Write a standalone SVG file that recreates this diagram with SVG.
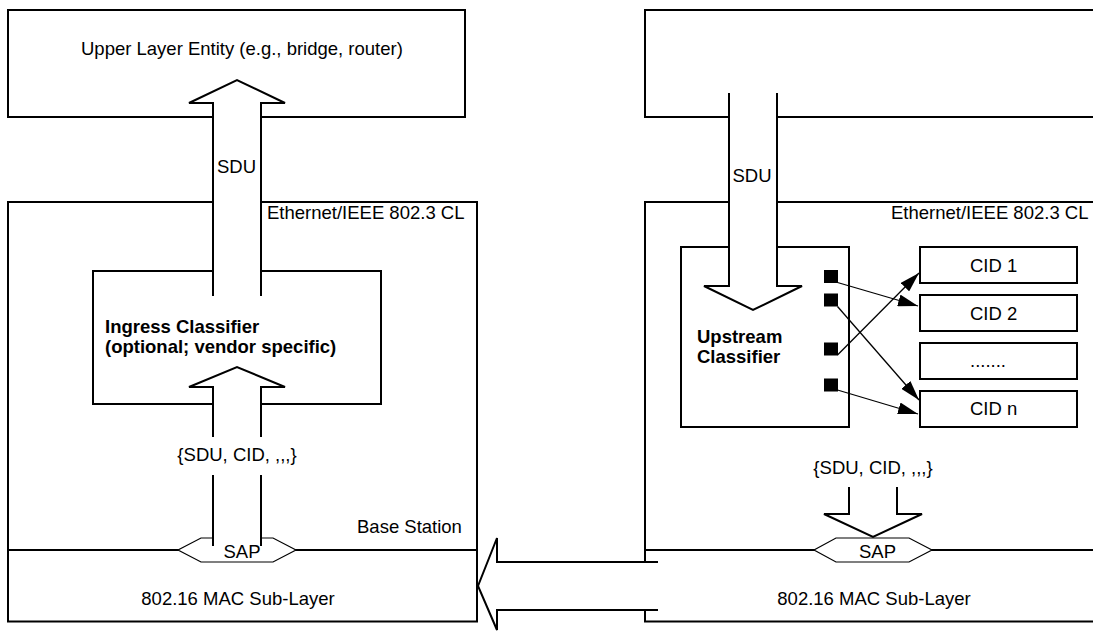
<svg xmlns="http://www.w3.org/2000/svg" width="1093" height="632" viewBox="0 0 1093 632">
<style>
  .box { fill: none; stroke: #000; stroke-width: 2; }
  .wbox { fill: #fff; stroke: #000; stroke-width: 2; }
  .hollow { fill: #fff; stroke: #000; stroke-width: 2; stroke-linejoin: miter; }
  .sap { fill: #fff; stroke: #000; stroke-width: 1.2; }
  .ln { fill: none; stroke: #000; stroke-width: 2; }
  .conn { fill: none; stroke: #000; stroke-width: 1.3; marker-end: url(#ah); }
  .sq { fill: #000; }
  text { font-family: "Liberation Sans", Arial, sans-serif; font-size: 18.5px; fill: #000; }
  .b { font-weight: bold; }
  .m { text-anchor: middle; }
</style>
<defs>
  <marker id="ah" markerUnits="userSpaceOnUse" markerWidth="20" markerHeight="12" refX="20" refY="6" orient="auto">
    <path d="M0,0 L20,6 L0,12 z" fill="#000"/>
  </marker>
</defs>
<rect x="0" y="0" width="1093" height="632" fill="#fff"/>

<g id="upper-layer-entity-bs">
  <rect class="box" x="8" y="10" width="457" height="107"/>
  <text x="81" y="55">Upper Layer Entity (e.g., bridge, router)</text>
</g>
<g id="upper-layer-entity-ss">
  <path class="box" d="M1095,10 L645,10 L645,117 L1095,117"/>
</g>

<g id="bs-convergence-layer">
  <rect class="box" x="8" y="202" width="469" height="419.5"/>
  <line class="ln" x1="8" y1="550" x2="477" y2="550"/>
  <text x="267" y="219">Ethernet/IEEE 802.3 CL</text>
  <text x="357" y="533">Base Station</text>
  <text class="m" x="238" y="605">802.16 MAC Sub-Layer</text>
</g>
<g id="ss-convergence-layer">
  <path class="box" d="M1095,202 L645,202 L645,621.5 L1095,621.5"/>
  <line class="ln" x1="645" y1="550" x2="1095" y2="550"/>
  <text x="891" y="219">Ethernet/IEEE 802.3 CL</text>
  <text class="m" x="874" y="605">802.16 MAC Sub-Layer</text>
</g>

<g id="ingress-classifier">
  <rect class="box" x="93" y="271" width="288" height="133"/>
  <text class="b" x="105" y="333">Ingress Classifier</text>
  <text class="b" x="105" y="353">(optional; vendor specific)</text>
</g>

<g id="upstream-classifier">
  <rect class="box" x="681" y="247" width="168" height="180"/>
  <text class="b" x="697" y="343">Upstream</text>
  <text class="b" x="697" y="363">Classifier</text>
  <rect class="sq" x="824" y="270" width="14" height="13"/>
  <rect class="sq" x="824" y="293.5" width="14" height="13"/>
  <rect class="sq" x="824" y="342.5" width="14" height="13"/>
  <rect class="sq" x="824" y="378.5" width="14" height="13"/>
</g>

<g id="cid-1">
  <rect class="box" x="920" y="247" width="157" height="36"/>
  <text x="970" y="271.5">CID 1</text>
</g>
<g id="cid-2">
  <rect class="box" x="920" y="295" width="157" height="36"/>
  <text x="970" y="319.5">CID 2</text>
</g>
<g id="cid-dots">
  <rect class="box" x="920" y="343" width="157" height="36"/>
  <text x="970" y="367">.......</text>
</g>
<g id="cid-n">
  <rect class="box" x="920" y="391" width="157" height="36"/>
  <text x="970" y="415">CID n</text>
</g>

<g id="sap-bs">
  <path class="sap" d="M213,538 L201,538 L178,550 L201,562 L273,562 L296,550 L273,538 L261,538"/>
  <text class="m" x="242" y="558">SAP</text>
</g>
<g id="sap-ss">
  <path class="sap" d="M836,538 L909,538 L932,550 L909,562 L836,562 L814,550 Z"/>
  <text class="m" x="877.5" y="558">SAP</text>
</g>

<g id="connectors">
  <!-- BS: SDU up to upper layer -->
  <path class="hollow" d="M213,296 L213,103 L189,103 L237,80 L285,103 L261,103 L261,296"/>
  <text class="m" x="236.5" y="173">SDU</text>
  <!-- BS: up into ingress classifier -->
  <path class="hollow" d="M213,437 L213,387 L189,387 L237,367 L285,387 L261,387 L261,437"/>
  <line class="ln" x1="213" y1="475" x2="213" y2="546"/>
  <line class="ln" x1="261" y1="475" x2="261" y2="546"/>
  <text class="m" x="237" y="461">{SDU, CID, ,,,}</text>

  <!-- SS: SDU down into upstream classifier -->
  <path class="hollow" d="M729,93 L729,286 L704,286 L753,310 L802,286 L777,286 L777,93"/>
  <text class="m" x="752" y="182">SDU</text>
  <!-- SS: down to SAP -->
  <path class="hollow" d="M849,487 L849,514 L824,514 L873,537 L922,514 L897,514 L897,487"/>
  <text class="m" x="873" y="474">{SDU, CID, ,,,}</text>

  <!-- MAC to MAC -->
  <path class="hollow" d="M658,562 L497,562 L497,538 L478,586 L497,630 L497,610 L658,610"/>

  <!-- classifier to CIDs -->
  <line class="conn" x1="837.5" y1="282.5" x2="918" y2="306"/>
  <line class="conn" x1="837.5" y1="306.5" x2="919" y2="400"/>
  <line class="conn" x1="837.5" y1="355" x2="919" y2="273"/>
  <line class="conn" x1="837.5" y1="390" x2="918" y2="414"/>
</g>
</svg>
